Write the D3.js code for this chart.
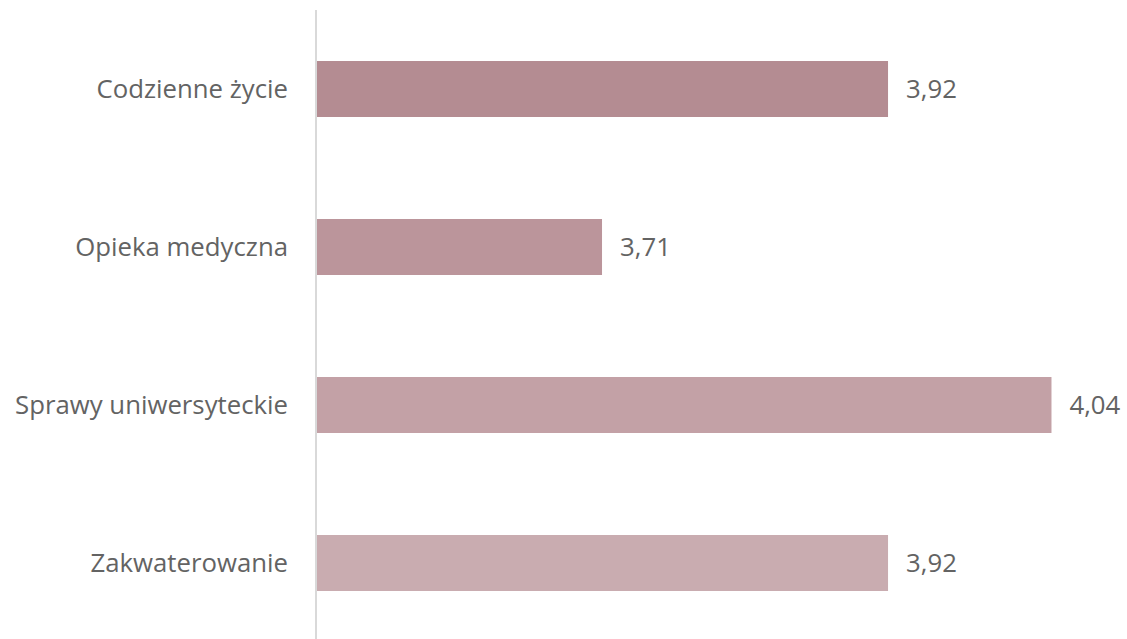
<!DOCTYPE html>
<html><head><meta charset="utf-8">
<script src="https://cdn.jsdelivr.net/npm/d3@7"></script>
<style>body{margin:0;background:#fff}svg{display:block}text{font-family:"Open Sans",sans-serif}</style>
</head><body>
<svg id="c" width="1127" height="639"></svg>
<script>
const categories = ["Codzienne życie","Opieka medyczna","Sprawy uniwersyteckie","Zakwaterowanie"];
const values = [3.92, 3.71, 4.04, 3.92];
const labels = ["3,92","3,71","4,04","3,92"];
const colors = ["#b48c92","#bb959b","#c3a1a6","#c9acb0"];

const svg = d3.select("#c");
const x = d3.scaleLinear().domain([3.5, 4.0]).range([316, 997]);
const y = d3.scaleBand().domain(categories).range([10, 642]).paddingInner(0.6456).paddingOuter(0.3228);

svg.selectAll("rect.bar").data(values).join("rect")
  .attr("class","bar")
  .attr("x", x(3.5))
  .attr("y", (d,i)=>y(categories[i]))
  .attr("width", d=>x(d)-x(3.5))
  .attr("height", y.bandwidth())
  .attr("fill", (d,i)=>colors[i]);

svg.append("line").attr("x1",x(3.5)).attr("x2",x(3.5)).attr("y1",10).attr("y2",639)
  .attr("stroke","#d9d9d9").attr("stroke-width",2);

// size font so the longest label matches the reference width (~273px)
const probe = svg.append("text").attr("font-size",20).text(categories[2]);
const w20 = probe.node().getComputedTextLength();
probe.remove();
const fs = 20 * 273 / w20;

svg.selectAll("text.cat").data(categories).join("text")
  .attr("class","cat")
  .attr("x", 288)
  .attr("y", d=>y(d)+y.bandwidth()/2)
  .attr("dy","0.36em")
  .attr("text-anchor","end")
  .attr("font-size",fs)
  .attr("fill","#636363")
  .text(d=>d);

svg.selectAll("text.val").data(values).join("text")
  .attr("class","val")
  .attr("x", d=>x(d)+18)
  .attr("y", (d,i)=>y(categories[i])+y.bandwidth()/2)
  .attr("dy","0.36em")
  .attr("font-size",fs)
  .attr("fill","#636363")
  .text((d,i)=>labels[i]);
</script>
</body></html>
